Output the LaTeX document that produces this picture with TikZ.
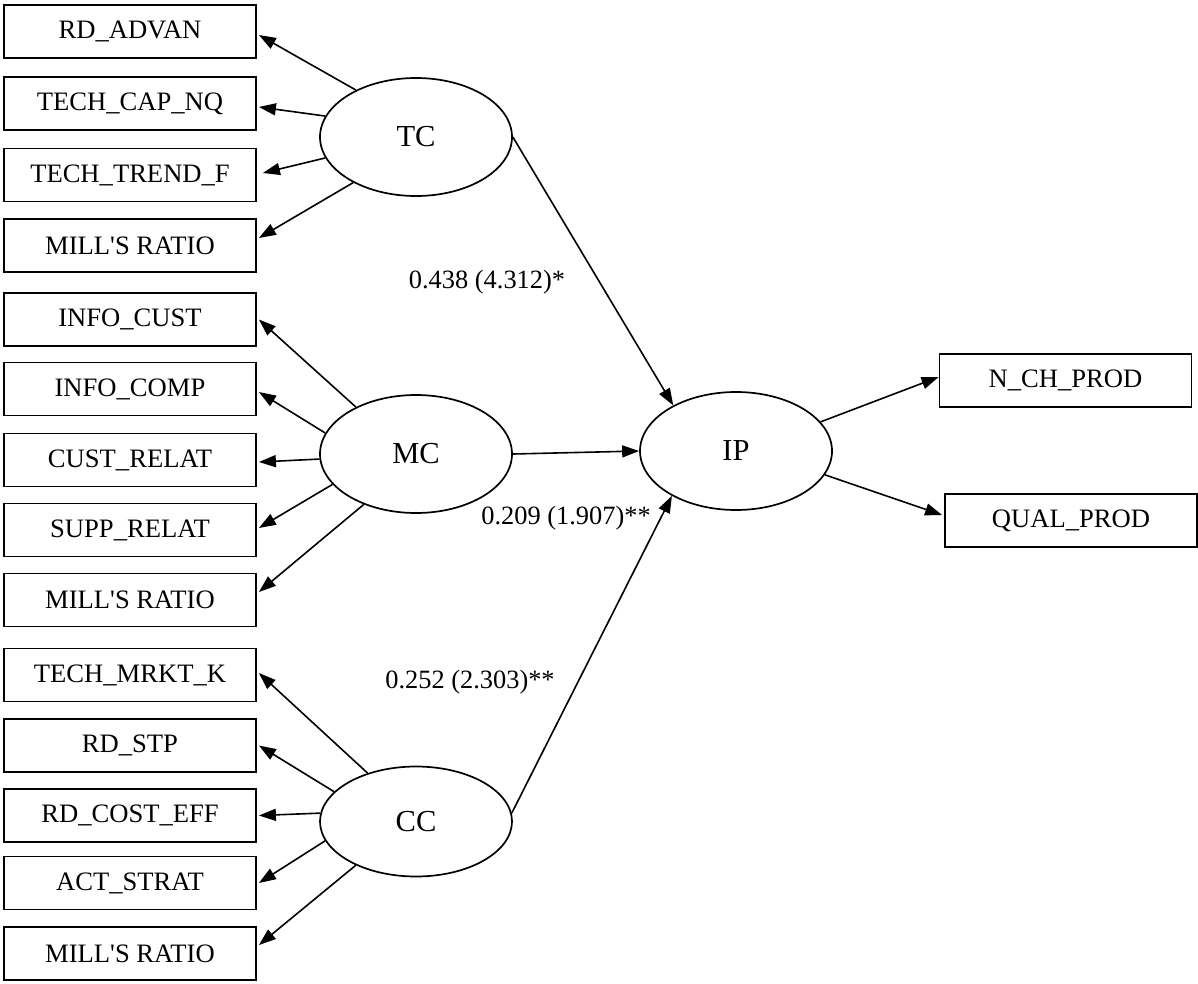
\documentclass[tikz,border=0pt]{standalone}
\usepackage{fontspec}
\setmainfont{Liberation Serif}
\usetikzlibrary{arrows.meta,shapes.geometric}
\begin{document}
\begin{tikzpicture}[x=1pt,y=-1pt,
  box/.style={draw, line width=1.8pt, minimum width=252pt, minimum height=53pt,
    inner sep=0pt, font=\fontsize{26.6}{30}\selectfont},
  latent/.style={draw, ellipse, line width=1.7pt, minimum width=192pt,
    minimum height=118pt, inner sep=0pt, font=\fontsize{30.5}{34}\selectfont},
  coef/.style={inner sep=0pt, font=\fontsize{26.4}{30}\selectfont},
  link/.style={line width=1.6pt, -{Triangle[length=17pt,width=12pt]}},
]
\useasboundingbox (0,0) rectangle (1198,983);

% technological capability indicators
\node[box] (rd)   at (130,31.5)  {RD\_ADVAN};
\node[box] (tcq)  at (130,103.5) {TECH\_CAP\_NQ};
\node[box] (ttf)  at (130,175)   {TECH\_TREND\_F};
\node[box] (mr1)  at (130,245.5) {MILL\textquotesingle S RATIO};

% marketing capability indicators
\node[box] (ic)   at (130,319.5) {INFO\_CUST};
\node[box] (icp)  at (130,389)   {INFO\_COMP};
\node[box] (cr)   at (130,460)   {CUST\_RELAT};
\node[box] (sr)   at (130,530)   {SUPP\_RELAT};
\node[box] (mr2)  at (130,600)   {MILL\textquotesingle S RATIO};

% cooperation capability indicators
\node[box] (tmk)  at (130,675)   {TECH\_MRKT\_K};
\node[box] (rds)  at (130,745.5) {RD\_STP};
\node[box] (rce)  at (130,815.5) {RD\_COST\_EFF};
\node[box] (act)  at (130,883)   {ACT\_STRAT};
\node[box] (mr3)  at (130,953.5) {MILL\textquotesingle S RATIO};

% outcome indicators
\node[box] (nch)  at (1065.5,380.5) {N\_CH\_PROD};
\node[box] (qual) at (1071,520.5)   {QUAL\_PROD};

% latent constructs
\node[latent] (TC) at (416,137)   {TC};
\node[latent] (MC) at (416,454)   {MC};
\node[latent, minimum height=110pt] (CC) at (416,821.5) {CC};
\node[latent] (IP) at (736,451)   {IP};

% loadings of TC
\draw[link] (TC.142)   -- ([xshift=2pt,yshift=-3.5pt]rd.east);
\draw[link] (TC.167.6) -- ([xshift=2pt,yshift=-3.5pt]tcq.east);
\draw[link] (TC.193.6) -- ([xshift=6pt,yshift=2pt]ttf.east);
\draw[link] (TC.216)   -- ([xshift=2pt,yshift=7.5pt]mr1.east);

% loadings of MC
\draw[link] (MC.142.5) -- ([xshift=2pt]ic.east);
\draw[link] (MC.167)   -- ([xshift=2pt,yshift=-3pt]icp.east);
\draw[link] (MC.183)   -- ([xshift=2pt,yshift=-2pt]cr.east);
\draw[link] (MC.200)   -- ([xshift=2pt,yshift=2pt]sr.east);
\draw[link] (MC.224)   -- ([xshift=2pt,yshift=8pt]mr2.east);

% loadings of CC
\draw[link] (CC.135)   -- ([xshift=2pt,yshift=2pt]tmk.east);
\draw[link] (CC.160)   -- ([xshift=2pt]rds.east);
\draw[link] (CC.175)   -- ([xshift=2pt]rce.east);
\draw[link] (CC.192)   -- ([xshift=2pt]act.east);
\draw[link] (CC.216)   -- ([xshift=2pt,yshift=8.5pt]mr3.east);

% structural paths
\draw[link] (TC.east) -- (IP.144.5);
\draw[link] (MC.east) -- (IP.west);
\draw[link] (CC.5)    -- (IP.215.4);

% loadings of IP
\draw[link] (IP.19.4)  -- ([yshift=3.5pt]nch.west);
\draw[link] (IP.-15.5) -- ([xshift=-2pt,yshift=5.5pt]qual.west);

% path coefficients
\node[coef] (c1) at (487,282) {0.438 (4.312)*};
\node[coef] (c2) at (566,518) {0.209 (1.907)**};
\node[coef] (c3) at (470,682) {0.252 (2.303)**};
\end{tikzpicture}
\end{document}
